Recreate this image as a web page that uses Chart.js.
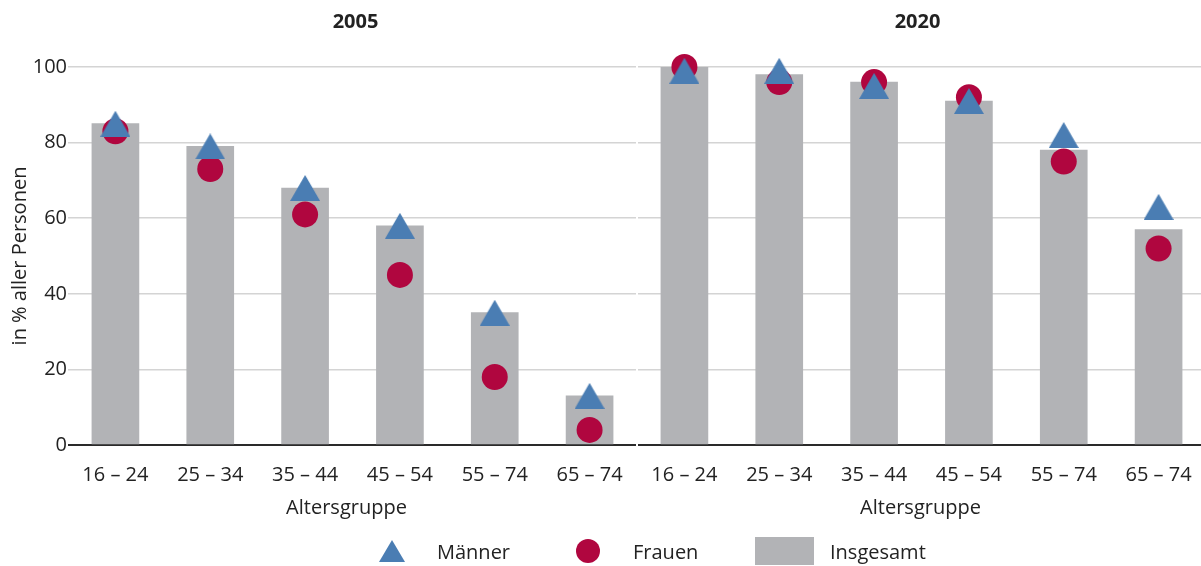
<!DOCTYPE html>
<html>
<head>
<meta charset="utf-8">
<script src="https://cdn.jsdelivr.net/npm/chart.js@4.4.1/dist/chart.umd.min.js"></script>
<style>
  html, body { margin: 0; padding: 0; background: #fff; overflow: hidden; }
  #wrap { position: relative; width: 1201px; height: 566px; overflow: hidden; }
  #box { position: absolute; left: 0; top: 0; width: 1206px; height: 566px; }
  .leg { position: absolute; top: 536px; height: 30px; display: flex; align-items: center;
         font: 20px "Open Sans"; color: #222; white-space: nowrap; }
  .mark { flex: none; }
</style>
</head>
<body>
<div id="wrap">
  <div id="box"><canvas id="myChart"></canvas></div>
  <div id="legend"></div>
</div>
<script>
const years = ["2005", "2020"];
const ageGroups = ["16 – 24", "25 – 34", "35 – 44", "45 – 54", "55 – 74", "65 – 74"];
const yTicks = [0, 20, 40, 60, 80, 100];

const maenner2005 = [85, 79, 68, 58, 35, 13];
const maenner2020 = [99, 99, 95, 91, 82, 63];
const frauen2005 = [83, 73, 61, 45, 18, 4];
const frauen2020 = [100, 96, 96, 92, 75, 52];
const insgesamt2005 = [85, 79, 68, 58, 35, 13];
const insgesamt2020 = [100, 98, 96, 91, 78, 57];

const blue = "#4a7db3";
const red = "#b0063f";
const gray = "#b2b3b6";
const textColor = "#222";
const fontFamily = "'Open Sans', sans-serif";

// triangle as image so it is centred on its box like in the original
function makeTriangle(w, h, color) {
  var c = document.createElement("canvas");
  c.width = w;
  c.height = h;
  var g = c.getContext("2d");
  g.fillStyle = color;
  g.beginPath();
  g.moveTo(w / 2, 0);
  g.lineTo(w, h);
  g.lineTo(0, h);
  g.closePath();
  g.fill();
  return c;
}
const triangle = makeTriangle(30, 26, blue);

const labels = ageGroups.concat(ageGroups);

const panelPlugin = {
  id: "panels",
  beforeDatasetsDraw(chart) {
    const { ctx, chartArea, scales } = chart;
    const x = scales.x;
    const gapX = (x.getPixelForValue(5) + x.getPixelForValue(6)) / 2;
    ctx.save();
    ctx.strokeStyle = "#fff";
    ctx.lineWidth = 2;
    ctx.beginPath();
    ctx.moveTo(gapX, chartArea.top - 3);
    ctx.lineTo(gapX, chartArea.bottom + 3);
    ctx.stroke();
    ctx.restore();
  },
  afterDraw(chart) {
    const { ctx, scales } = chart;
    const x = scales.x;
    ctx.save();
    ctx.fillStyle = textColor;
    ctx.textAlign = "center";
    ctx.textBaseline = "alphabetic";
    years.forEach(function (year, i) {
      const cx = x.getPixelForValue(i * ageGroups.length + (ageGroups.length - 1) / 2);
      ctx.font = "bold 20px " + fontFamily;
      ctx.fillText(year, cx + (i === 0 ? 3 : -4), 28);
      ctx.font = "20px " + fontFamily;
      ctx.fillText("Altersgruppe", cx + (i === 0 ? -6 : -1), 514);
    });
    ctx.restore();
  }
};

const ctx = document.getElementById("myChart");
const chart = new Chart(ctx, {
  data: {
    labels: labels,
    datasets: [
      {
        type: "line",
        label: "Männer",
        data: maenner2005.concat(maenner2020),
        showLine: false,
        pointStyle: triangle,
        pointRadius: 15,
        pointHoverRadius: 15,
        backgroundColor: blue,
        borderColor: blue,
        clip: false,
      },
      {
        type: "line",
        label: "Frauen",
        data: frauen2005.concat(frauen2020),
        showLine: false,
        pointStyle: "circle",
        pointRadius: 13,
        pointHoverRadius: 13,
        pointBorderWidth: 0,
        backgroundColor: red,
        borderColor: red,
        clip: false,
      },
      {
        type: "bar",
        label: "Insgesamt",
        data: insgesamt2005.concat(insgesamt2020),
        backgroundColor: gray,
        barThickness: 47,
      },
    ],
  },
  options: {
    responsive: true,
    maintainAspectRatio: false,
    animation: false,
    layout: { autoPadding: false, padding: { top: 67, left: 0, right: 0, bottom: 0 } },
    plugins: {
      legend: { display: false },
      tooltip: { enabled: false },
    },
    scales: {
      x: {
        grid: { display: false },
        border: { display: false },
        ticks: {
          color: textColor,
          font: { family: fontFamily, size: 20 },
          padding: 10,
          maxRotation: 0,
          autoSkip: false,
        },
        afterFit: function (s) { s.height = 121; },
      },
      y: {
        min: 0,
        max: 100,
        afterBuildTicks: function (s) { s.ticks = yTicks.map(v => ({ value: v })); },
        ticks: {
          color: textColor,
          font: { family: fontFamily, size: 20 },
          padding: 1,
        },
        grid: {
          drawTicks: false,
          color: c => (c.tick.value === 0 ? "#2a2a2a" : "#d4d4d4"),
          lineWidth: c => (c.tick.value === 0 ? 2 : 1.5),
        },
        border: { display: false },
        title: {
          display: true,
          text: "in % aller Personen",
          color: textColor,
          font: { family: fontFamily, size: 20 },
          padding: { top: 8, bottom: 0 },
        },
        afterFit: function (s) { s.width = 68; },
      },
    },
  },
  plugins: [panelPlugin],
});

// legend built from the datasets
const legendLeft = [379, 576, 755];
const legendEl = document.getElementById("legend");
chart.data.datasets.forEach(function (ds, i) {
  var item = document.createElement("div");
  item.className = "leg";
  item.style.left = legendLeft[i] + "px";
  var m = document.createElement("div");
  m.className = "mark";
  if (ds.type === "bar") {
    m.style.cssText = "width:59px;height:28px;margin-right:16px;background:" + ds.backgroundColor;
  } else if (ds.pointStyle === "circle") {
    m.style.cssText = "width:24px;height:24px;border-radius:50%;margin-right:33px;background:" + ds.backgroundColor;
  } else {
    m.style.cssText = "width:26px;height:22px;margin-right:32px;clip-path:polygon(50% 0,100% 100%,0 100%);background:" + ds.backgroundColor;
  }
  var t = document.createElement("span");
  t.textContent = ds.label;
  item.appendChild(m);
  item.appendChild(t);
  legendEl.appendChild(item);
});
</script>
</body>
</html>
